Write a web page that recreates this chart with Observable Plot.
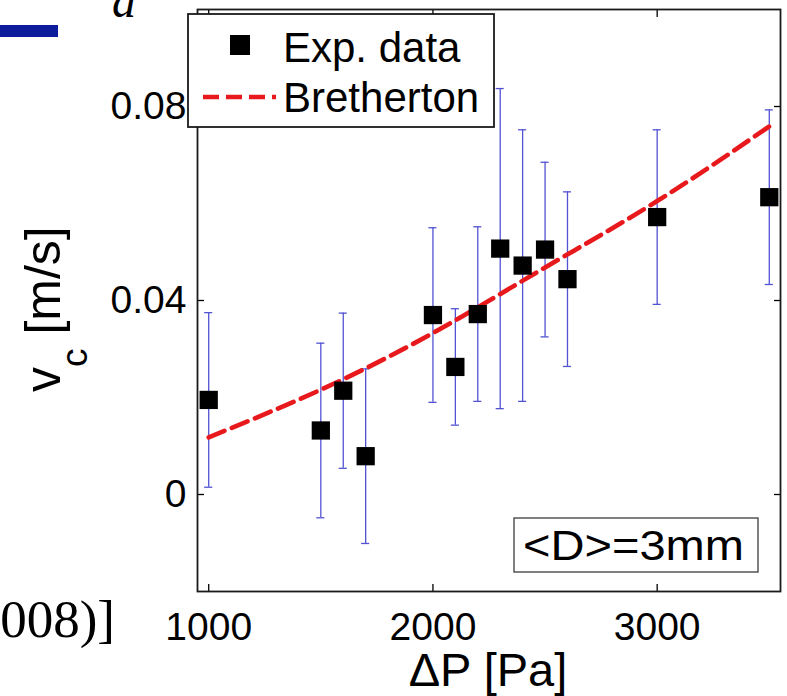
<!DOCTYPE html>
<html><head><meta charset="utf-8">
<script src="https://cdn.jsdelivr.net/npm/d3@7"></script>
<script src="https://cdn.jsdelivr.net/npm/@observablehq/plot@0.6"></script>
<style>
body{margin:0;background:#fff}
#chart{position:relative;width:787px;height:696px;overflow:hidden;background:#fff}
</style>
</head><body><div id="chart"></div>
<script>
// ---- data ----
const pressure = [1000, 1500, 1600, 1700, 2000, 2100, 2200, 2300, 2400, 2500, 2600, 3000, 3500];
const velocity = [0.0195, 0.0132, 0.0214, 0.0079, 0.0370, 0.0263, 0.0372, 0.0507, 0.0472, 0.0505, 0.0444, 0.0572, 0.0613];
const errorHalf = [0.018, 0.018, 0.016, 0.018, 0.018, 0.012, 0.018, 0.033, 0.028, 0.018, 0.018, 0.018, 0.018];
const brethertonP = [1000, 1500, 2000, 2500, 3000, 3500];
const brethertonV = [0.0118, 0.0216, 0.0333, 0.0468, 0.0605, 0.0759];
const xTicks = [1000, 2000, 3000];
const yTicks = [0, 0.04, 0.08];
const xLabel = "ΔP [Pa]";
const legendLabels = ["Exp. data", "Bretherton"];
const boxLabel = "<D>=3mm";

const data = pressure.map((p, i) => ({p, v: velocity[i], lo: velocity[i] - errorHalf[i], hi: velocity[i] + errorHalf[i]}));
const curve = brethertonP.map((p, i) => ({p, v: brethertonV[i]}));

const errColor = "#5252d2";
const capHalf = 18;
const font = "'Liberation Sans', Arial, Helvetica, sans-serif";

const plot = Plot.plot({
  width: 787, height: 696,
  marginLeft: 197, marginRight: 7, marginTop: 9, marginBottom: 105,
  style: {fontFamily: font, background: "white", color: "black"},
  x: {domain: [950, 3550]},
  y: {domain: [-0.02, 0.1]},
  marks: [
    Plot.ruleX(data, {x: "p", y1: "lo", y2: "hi", stroke: errColor, strokeWidth: 1.3}),
    Plot.ruleY(data, {y: "lo", x1: d => d.p - capHalf, x2: d => d.p + capHalf, stroke: errColor, strokeWidth: 1.3}),
    Plot.ruleY(data, {y: "hi", x1: d => d.p - capHalf, x2: d => d.p + capHalf, stroke: errColor, strokeWidth: 1.3}),
    Plot.line(curve, {x: "p", y: "v", stroke: "#e8191c", strokeWidth: 4.6, strokeDasharray: "17,8", curve: "natural"}),
    Plot.dot(data, {x: "p", y: "v", symbol: "square", r: 10.3, fill: "black", stroke: "none"}),
    Plot.axisX({anchor: "bottom", ticks: xTicks, tickSize: -7, tickPadding: 28, fontSize: 39, tickFormat: d => String(d), label: null, strokeWidth: 1.3}),
    Plot.axisX({anchor: "top", ticks: xTicks, tickSize: -7, tickFormat: () => "", label: null, strokeWidth: 1.3}),
    Plot.axisY({anchor: "left", ticks: yTicks, tickSize: -7, tickPadding: 18, fontSize: 39, tickFormat: d => String(d), label: null, strokeWidth: 1.3}),
    Plot.axisY({anchor: "right", ticks: yTicks, tickSize: -7, tickFormat: () => "", label: null, strokeWidth: 1.3}),
    Plot.frame({stroke: "#1a1a1a", strokeWidth: 1.8})
  ]
});
document.getElementById("chart").appendChild(plot);

const svg = d3.select(plot);
const deco = svg.append("g").attr("font-family", font).attr("text-anchor", "start").attr("fill", "black");

// legend
deco.append("rect").attr("x", 188).attr("y", 14).attr("width", 306).attr("height", 113)
  .attr("fill", "white").attr("stroke", "#1a1a1a").attr("stroke-width", 1.8);
deco.append("rect").attr("x", 230).attr("y", 35).attr("width", 20).attr("height", 20).attr("fill", "black");
deco.append("line").attr("x1", 203).attr("x2", 276).attr("y1", 97).attr("y2", 97)
  .attr("stroke", "#e8191c").attr("stroke-width", 4.6).attr("stroke-dasharray", "16,7");
deco.append("text").attr("x", 283).attr("y", 62).attr("font-size", 42).attr("text-anchor", "start").text(legendLabels[0]);
deco.append("text").attr("x", 283).attr("y", 112).attr("font-size", 42).attr("text-anchor", "start").text(legendLabels[1]);

// annotation box
deco.append("rect").attr("x", 514).attr("y", 518).attr("width", 244).attr("height", 54)
  .attr("fill", "white").attr("stroke", "#555").attr("stroke-width", 1.5);
deco.append("text").attr("x", 523).attr("y", 560).attr("font-size", 42).attr("text-anchor", "start")
  .attr("textLength", 221).attr("lengthAdjust", "spacingAndGlyphs").text(boxLabel);

// axis labels
deco.append("text").attr("x", 488).attr("y", 686).attr("font-size", 47).attr("text-anchor", "middle").text(xLabel);
const yl = deco.append("text").attr("transform", "translate(60,392) rotate(-90)").attr("font-size", 50).attr("text-anchor", "start");
yl.append("tspan").text("v");
yl.append("tspan").attr("dy", 27).attr("font-size", 37).text("c");
yl.append("tspan").attr("dy", -27).text(" [m/s]");

// fragments of the surrounding page
deco.append("rect").attr("x", 0).attr("y", 25).attr("width", 58).attr("height", 12).attr("fill", "#0c1c9a");
deco.append("text").attr("x", 112).attr("y", 17).attr("font-size", 48).attr("text-anchor", "start")
  .attr("font-family", "'Liberation Serif', 'Times New Roman', serif").attr("font-style", "italic").text("d");
deco.append("text").attr("x", 115).attr("y", 637).attr("font-size", 53).attr("text-anchor", "end")
  .attr("font-family", "'Liberation Serif', 'Times New Roman', serif").text("(2008)]");
</script>
</body></html>
